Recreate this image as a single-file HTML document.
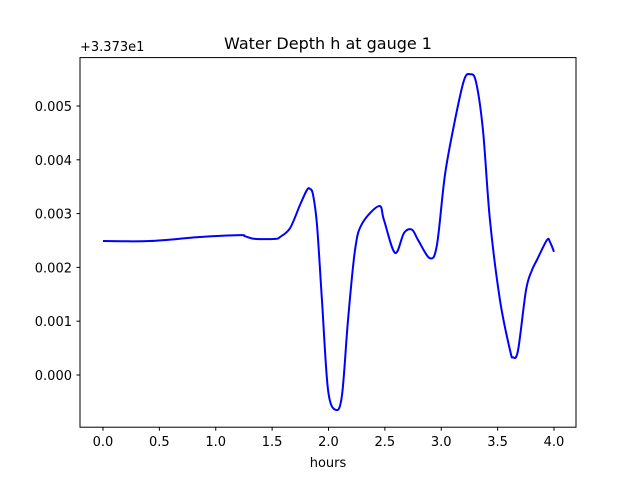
<!DOCTYPE html>
<html><head><meta charset="utf-8"><style>
body{margin:0;background:#fff}
svg{display:block;font-family:"DejaVu Sans","Liberation Sans",sans-serif}
</style></head><body>
<svg id="chart" width="640" height="480">
<rect x="0" y="0" width="640" height="480" fill="#fff"/>
<text x="328" y="49" font-size="16" text-anchor="middle">Water Depth h at gauge 1</text>
<text x="80" y="51" font-size="13">+3.373e1</text>
<text x="328" y="467" font-size="13" text-anchor="middle">hours</text>
<g id="xticks"></g>
<g id="yticks"></g>
<path id="line" fill="none" stroke="#0000ff" stroke-width="2"/>
<rect x="80" y="57.6" width="496" height="369.6" fill="none" stroke="#000" stroke-width="1"/>
</svg>
<script>
const hours=[0,0.417,0.86,1.215,1.259,1.348,1.526,1.57,1.659,1.747,1.809,1.836,1.863,1.898,1.942,1.996,2.066,2.12,2.173,2.235,2.297,2.448,2.492,2.59,2.67,2.741,2.794,2.9,2.962,3.033,3.122,3.202,3.255,3.308,3.37,3.432,3.521,3.61,3.636,3.681,3.752,3.805,3.849,3.938,3.965,4.0];
const depthMilli=[2.49,2.49,2.565,2.6,2.58,2.53,2.53,2.565,2.73,3.16,3.44,3.46,3.35,2.79,1.39,-0.28,-0.65,-0.37,1.02,2.32,2.81,3.14,2.88,2.27,2.64,2.7,2.51,2.17,2.42,3.72,4.74,5.48,5.59,5.45,4.55,2.88,1.39,0.46,0.33,0.46,1.58,1.95,2.14,2.51,2.47,2.29];
const xTicks=[0,0.5,1,1.5,2,2.5,3,3.5,4];
const yTicks=[0,1,2,3,4,5];
const yTickLabels=["0.000","0.001","0.002","0.003","0.004","0.005"];
const sx=h=>103+h*112.75;
const sy=v=>375-v*53.8;
const NS="http://www.w3.org/2000/svg";
const xg=document.getElementById('xticks'),yg=document.getElementById('yticks');
xTicks.forEach(t=>{
  const l=document.createElementNS(NS,'line');
  l.setAttribute('x1',sx(t));l.setAttribute('x2',sx(t));l.setAttribute('y1',427.2);l.setAttribute('y2',430.7);l.setAttribute('stroke','#000');
  
  
  xg.appendChild(l);
  const tx=document.createElementNS(NS,'text');
  tx.setAttribute('x',sx(t));tx.setAttribute('y',446);tx.setAttribute('font-size','13');tx.setAttribute('text-anchor','middle');
  tx.textContent=t.toFixed(1);
  
  
  xg.appendChild(tx);
});
yTicks.forEach((t,i)=>{
  const l=document.createElementNS(NS,'line');
  l.setAttribute('x1',76.5);l.setAttribute('x2',80);l.setAttribute('y1',sy(t));l.setAttribute('y2',sy(t));l.setAttribute('stroke','#000');
  
  
  yg.appendChild(l);
  const tx=document.createElementNS(NS,'text');
  tx.setAttribute('x',72);tx.setAttribute('y',sy(t)+5);tx.setAttribute('font-size','13');tx.setAttribute('text-anchor','end');
  tx.textContent=yTickLabels[i];
  
  
  yg.appendChild(tx);
});
const P=hours.map((h,i)=>[sx(h),sy(depthMilli[i])]);
let d='M'+P[0][0]+','+P[0][1];
for(let i=0;i<P.length-1;i++){
  const p0=P[Math.max(0,i-1)],p1=P[i],p2=P[i+1],p3=P[Math.min(P.length-1,i+2)];
  const c1=[p1[0]+(p2[0]-p0[0])/6,p1[1]+(p2[1]-p0[1])/6];
  const c2=[p2[0]-(p3[0]-p1[0])/6,p2[1]-(p3[1]-p1[1])/6];
  d+=' C'+c1[0]+','+c1[1]+' '+c2[0]+','+c2[1]+' '+p2[0]+','+p2[1];
}
document.getElementById('line').setAttribute('d',d);
</script>
</body></html>
